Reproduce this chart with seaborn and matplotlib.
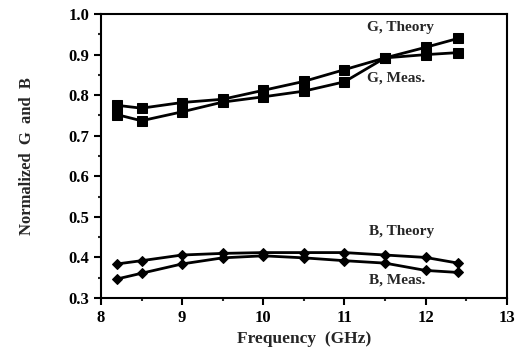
import matplotlib
matplotlib.use("Agg")
import matplotlib.pyplot as plt
import seaborn as sns
import pandas as pd
from matplotlib.ticker import MultipleLocator

sns.set_theme(style="ticks")
plt.rcParams['font.family'] = ['Liberation Serif', 'DejaVu Serif']
plt.rcParams['font.weight'] = 'bold'

freq = [8.2, 8.5, 9.0, 9.5, 10.0, 10.5, 11.0, 11.5, 12.0, 12.4]
g_theory = [0.775, 0.768, 0.782, 0.790, 0.812, 0.834, 0.863, 0.892, 0.918, 0.940]
g_meas = [0.752, 0.737, 0.759, 0.783, 0.796, 0.810, 0.833, 0.892, 0.900, 0.905]
b_theory = [0.384, 0.392, 0.406, 0.410, 0.412, 0.412, 0.412, 0.406, 0.400, 0.386]
b_meas = [0.347, 0.361, 0.384, 0.399, 0.404, 0.399, 0.392, 0.386, 0.368, 0.363]

labels = ["G, Theory", "G, Meas.", "B, Theory", "B, Meas."]
label_pos = [(11.28, 0.966), (11.28, 0.842), (11.3, 0.465), (11.3, 0.345)]

fig = plt.figure(figsize=(5.15, 3.61), dpi=100)
ax = fig.add_axes([0.196, 0.1745, 0.788, 0.7865])

series = [(g_theory, 's'), (g_meas, 's'), (b_theory, 'D'), (b_meas, 'D')]
for vals, m in series:
    df = pd.DataFrame({"f": freq, "v": vals})
    sns.lineplot(data=df, x="f", y="v", ax=ax, color="black", linewidth=2,
                 marker=m, markersize=6.5 if m == 's' else 5.5, markeredgecolor="black",
                 markerfacecolor="black")

for lab, (x, y) in zip(labels, label_pos):
    ax.text(x, y, lab, fontsize=11, fontweight='bold', va='center', ha='left')

ax.set_xlim(8, 13)
ax.set_ylim(0.3, 1.0)
ax.xaxis.set_major_locator(MultipleLocator(1))
ax.xaxis.set_minor_locator(MultipleLocator(0.5))
ax.yaxis.set_major_locator(MultipleLocator(0.1))
ax.yaxis.set_minor_locator(MultipleLocator(0.05))
ax.set_yticks([0.3, 0.4, 0.5, 0.6, 0.7, 0.8, 0.9, 1.0])
ax.set_yticklabels(["0.3", "0.4", "0.5", "0.6", "0.7", "0.8", "0.9", "1.0"])
ax.tick_params(which='major', direction='out', length=5, width=1.5, labelsize=12, colors='black')
ax.tick_params(which='minor', direction='out', length=2.5, width=1.5)
for lab in ax.get_xticklabels() + ax.get_yticklabels():
    lab.set_fontweight('bold')
for s in ax.spines.values():
    s.set_linewidth(1.5)
    s.set_color('black')
ax.set_xlabel("Frequency  (GHz)", fontsize=12.5, fontweight='bold', labelpad=4)
ax.set_ylabel("Normalized  G  and  B", fontsize=12, fontweight='bold', labelpad=24)

fig.savefig("out.png", dpi=100)
